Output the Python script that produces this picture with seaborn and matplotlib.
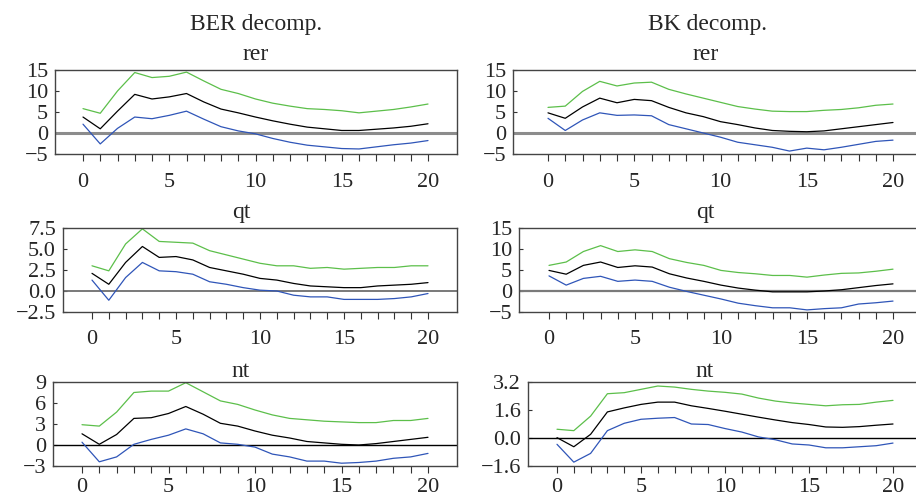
import numpy as np
import seaborn as sns
import matplotlib.pyplot as plt
from matplotlib.ticker import MultipleLocator, FixedLocator, FuncFormatter

# horizon
h = np.arange(21)

# BER decomposition
ber_rer_up = [5.8, 4.7, 10.0, 14.4, 13.2, 13.5, 14.5, 12.4, 10.4, 9.4, 8.1, 7.1, 6.4, 5.8, 5.6, 5.3, 4.8, 5.2, 5.6, 6.2, 6.9]
ber_rer_mid = [3.8, 1.0, 5.2, 9.2, 8.1, 8.6, 9.4, 7.4, 5.7, 4.8, 3.8, 2.9, 2.1, 1.4, 1.0, 0.6, 0.6, 0.9, 1.2, 1.6, 2.2]
ber_rer_lo = [2.1, -2.6, 1.1, 3.8, 3.4, 4.2, 5.2, 3.3, 1.5, 0.5, -0.2, -1.3, -2.2, -2.9, -3.3, -3.7, -3.8, -3.3, -2.8, -2.4, -1.8]

ber_qt_up = [3.0, 2.4, 5.6, 7.4, 5.9, 5.8, 5.7, 4.8, 4.3, 3.8, 3.3, 3.0, 3.0, 2.7, 2.8, 2.6, 2.7, 2.8, 2.8, 3.0, 3.0]
ber_qt_mid = [2.1, 0.8, 3.4, 5.3, 4.0, 4.1, 3.7, 2.8, 2.4, 2.0, 1.5, 1.3, 0.9, 0.6, 0.5, 0.4, 0.4, 0.6, 0.7, 0.8, 1.0]
ber_qt_lo = [1.3, -1.1, 1.6, 3.4, 2.4, 2.3, 2.0, 1.1, 0.8, 0.4, 0.1, 0.0, -0.5, -0.7, -0.7, -1.0, -1.0, -1.0, -0.9, -0.7, -0.3]

ber_nt_up = [2.9, 2.7, 4.7, 7.5, 7.7, 7.7, 8.9, 7.6, 6.3, 5.8, 5.0, 4.3, 3.8, 3.6, 3.4, 3.3, 3.2, 3.2, 3.5, 3.5, 3.8]
ber_nt_mid = [1.6, 0.1, 1.5, 3.8, 3.9, 4.5, 5.5, 4.4, 3.1, 2.7, 2.0, 1.4, 1.0, 0.5, 0.3, 0.1, 0.0, 0.2, 0.5, 0.8, 1.1]
ber_nt_lo = [0.4, -2.4, -1.7, 0.1, 0.8, 1.4, 2.3, 1.6, 0.3, 0.1, -0.3, -1.3, -1.7, -2.3, -2.3, -2.6, -2.5, -2.3, -1.9, -1.7, -1.2]

# BK decomposition
bk_rer_up = [6.1, 6.4, 9.9, 12.3, 11.2, 11.9, 12.1, 10.4, 9.3, 8.3, 7.3, 6.3, 5.7, 5.2, 5.1, 5.1, 5.4, 5.6, 6.0, 6.6, 6.9]
bk_rer_mid = [4.8, 3.5, 6.2, 8.3, 7.2, 8.0, 7.7, 6.1, 4.8, 3.9, 2.7, 2.0, 1.2, 0.6, 0.4, 0.3, 0.5, 1.0, 1.5, 2.0, 2.5]
bk_rer_lo = [3.5, 0.6, 3.1, 4.8, 4.2, 4.3, 4.1, 2.0, 1.0, 0.0, -1.0, -2.2, -2.8, -3.4, -4.3, -3.6, -4.0, -3.4, -2.7, -2.0, -1.7]

bk_qt_up = [6.1, 6.9, 9.4, 10.8, 9.4, 9.8, 9.4, 7.7, 6.8, 6.1, 4.9, 4.4, 4.1, 3.7, 3.7, 3.3, 3.8, 4.2, 4.3, 4.7, 5.2]
bk_qt_mid = [4.9, 4.0, 6.1, 6.9, 5.6, 6.0, 5.7, 4.1, 3.1, 2.3, 1.4, 0.7, 0.2, -0.2, -0.2, -0.2, 0.0, 0.3, 0.8, 1.3, 1.7]
bk_qt_lo = [3.6, 1.4, 3.0, 3.5, 2.3, 2.6, 2.3, 0.9, -0.1, -1.0, -1.9, -2.9, -3.5, -4.0, -4.0, -4.5, -4.2, -4.0, -3.1, -2.8, -2.4]

bk_nt_up = [0.50, 0.42, 1.25, 2.53, 2.59, 2.78, 2.97, 2.91, 2.78, 2.68, 2.61, 2.51, 2.28, 2.11, 2.00, 1.92, 1.84, 1.90, 1.92, 2.05, 2.15]
bk_nt_mid = [0.02, -0.50, 0.21, 1.49, 1.72, 1.92, 2.05, 2.05, 1.84, 1.69, 1.53, 1.36, 1.19, 1.03, 0.88, 0.77, 0.63, 0.61, 0.65, 0.73, 0.80]
bk_nt_lo = [-0.36, -1.38, -0.88, 0.42, 0.84, 1.07, 1.13, 1.17, 0.80, 0.77, 0.54, 0.34, 0.06, -0.10, -0.34, -0.40, -0.56, -0.56, -0.50, -0.44, -0.29]

col_titles = ["BER decomp.", "BK decomp."]
var_names = ["rer", "qt", "nt"]

sns.set_style("ticks")
plt.rcParams['font.family'] = ['Liberation Serif', 'DejaVu Serif']

W, H = 916, 500
fig = plt.figure(figsize=(W / 100, H / 100), dpi=100)

# panel layout in pixels: (left, right, top, bottom, px of x=0, px of x=20)
boxes = [
    [(55, 457, 70, 154, 83, 428), (513, 918, 70, 154, 548, 893)],
    [(63, 457, 228, 312, 92, 428), (519, 918, 228, 312, 549, 893)],
    [(53, 457, 382, 466, 82, 428), (528, 918, 382, 466, 557, 893)],
]
series = [
    [(ber_rer_up, ber_rer_mid, ber_rer_lo), (bk_rer_up, bk_rer_mid, bk_rer_lo)],
    [(ber_qt_up, ber_qt_mid, ber_qt_lo), (bk_qt_up, bk_qt_mid, bk_qt_lo)],
    [(ber_nt_up, ber_nt_mid, ber_nt_lo), (bk_nt_up, bk_nt_mid, bk_nt_lo)],
]
ylims = [[(-5, 15, 5, "%g"), (-5, 15, 5, "%g")],
         [(-2.5, 7.5, 2.5, "%.1f"), (-5, 15, 5, "%g")],
         [(-3, 9, 3, "%g"), (-1.6, 3.2, 1.6, "%.1f")]]
zero_style = [[("#8c8c8c", 2.2), ("#8c8c8c", 2.2)],
              [("#6e6e6e", 1.3), ("#7a7a7a", 1.6)],
              [("black", 1.0), ("black", 1.0)]]
name_x = [[256, 706], [241, 705], [241, 705]]
name_y = [60, 218, 377]
xpad = [9, 8, 4]

green = "#5cbf4a"
blue = "#2f55b8"


def minus_fmt(fmt):
    return FuncFormatter(lambda v, p: (fmt % v).replace("-", "\u2212"))


for r in range(3):
    for c in range(2):
        L, R, T, B, p0, p20 = boxes[r][c]
        ax = fig.add_axes([L / W, 1 - B / H, (R - L) / W, (B - T) / H])
        up, mid, lo = series[r][c]
        sns.lineplot(x=h, y=up, color=green, lw=0.9, ax=ax)
        sns.lineplot(x=h, y=mid, color="black", lw=0.9, ax=ax)
        sns.lineplot(x=h, y=lo, color=blue, lw=0.9, ax=ax)
        zc, zw = zero_style[r][c]
        ax.axhline(0, color=zc, lw=zw, zorder=1)

        sc = (p20 - p0) / 20
        ax.set_xlim((L - p0) / sc, (R - p0) / sc)
        y0, y1, step, fmt = ylims[r][c]
        ax.set_ylim(y0, y1)
        ax.yaxis.set_major_locator(MultipleLocator(step))
        ax.yaxis.set_major_formatter(minus_fmt(fmt))
        ax.xaxis.set_major_locator(FixedLocator([0, 5, 10, 15, 20]))
        ax.xaxis.set_minor_locator(FixedLocator(list(range(21))))
        ax.tick_params(axis='x', which='both', direction='out', length=5,
                       width=0.8, pad=xpad[r], labelsize=16, color="#333333")
        ax.tick_params(axis='y', which='major', direction='in', length=3,
                       width=0.8, pad=5, labelsize=16, color="#333333")
        for s in ax.spines.values():
            s.set_color("#444444")
            s.set_linewidth(1.0)
        ax.set_xlabel("")
        ax.set_ylabel("")

        fig.text(name_x[r][c] / W, 1 - name_y[r] / H, var_names[r],
                 ha='center', va='baseline', fontsize=17)

fig.text(256 / W, 1 - 30 / H, col_titles[0], ha='center', va='baseline', fontsize=17)
fig.text(707 / W, 1 - 30 / H, col_titles[1], ha='center', va='baseline', fontsize=17)

fig.savefig("out.png", dpi=100)
